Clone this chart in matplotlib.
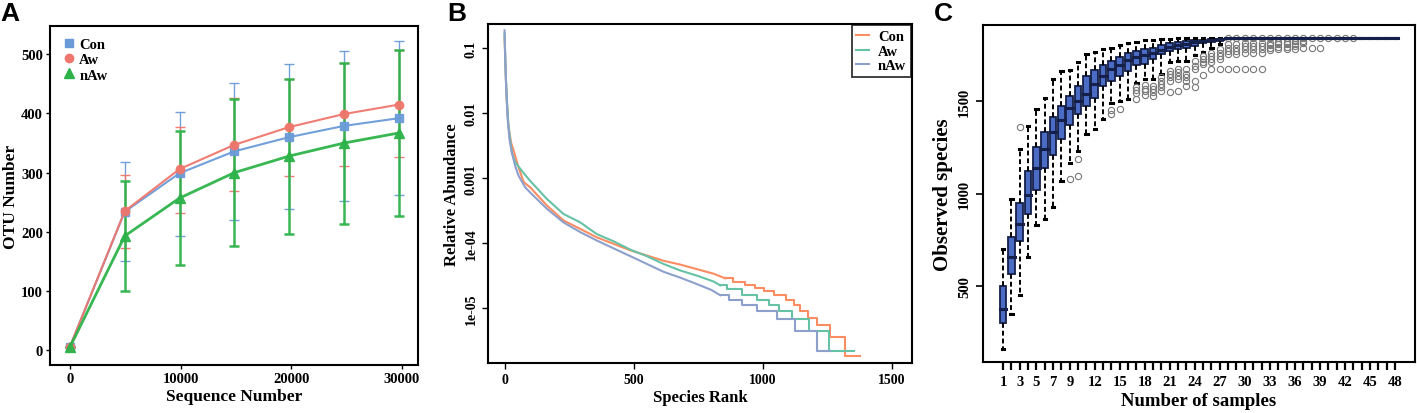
import matplotlib
matplotlib.use('Agg')
import matplotlib.pyplot as plt
from matplotlib.lines import Line2D

plt.rcParams['font.family'] = ['Liberation Serif', 'DejaVu Serif']
plt.rcParams['font.weight'] = 'bold'

# ---------------- A: OTU rarefaction ----------------
seq_num = [0, 4950, 9900, 14850, 19800, 24750, 29700]
con_mean = [6, 234, 299, 336, 360, 379, 392]
con_low = [6, 150, 193, 220, 238, 252, 263]
con_high = [6, 318, 403, 452, 483, 505, 522]
aw_mean = [6, 235, 306, 347, 377, 399, 415]
aw_low = [6, 173, 231, 269, 294, 312, 327]
aw_high = [6, 296, 378, 426, 459, 486, 507]
naw_mean = [5, 193, 257, 300, 328, 350, 367]
naw_low = [5, 100, 144, 176, 197, 213, 226]
naw_high = [5, 286, 370, 425, 459, 486, 507]

# ---------------- B: rank abundance ----------------
con_rank = [0, 5, 9, 15, 25, 37, 54, 74, 99, 164, 228, 293, 357, 422, 487, 551, 615, 680, 745, 809, 854]
con_abund = [0.151, 0.0339, 0.0148, 0.00646, 0.00355, 0.00251, 0.00148, 0.000871, 0.000724, 0.00038,
             0.000224, 0.000166, 0.000123, 9.77e-5, 7.76e-5, 6.46e-5, 5.37e-5, 4.68e-5, 3.98e-5, 3.39e-5, 2.88e-5]
con_tail_rank = [854, 886, 932, 970, 1003, 1041, 1090, 1119, 1145, 1173, 1209, 1258, 1319, 1377]
con_tail_abund = [2.88e-5, 2.57e-5, 2.29e-5, 2.04e-5, 1.82e-5, 1.58e-5, 1.32e-5, 1.10e-5, 9.1e-6,
                  7.1e-6, 5.5e-6, 3.6e-6, 1.86e-6, 1.86e-6]

aw_rank = [0, 5, 9, 15, 28, 41, 60, 80, 99, 164, 228, 293, 357, 422, 487, 551, 615, 680, 745, 809, 835]
aw_abund = [0.170, 0.038, 0.0166, 0.00646, 0.00251, 0.00178, 0.00141, 0.00112, 0.000912, 0.000479,
            0.000282, 0.000209, 0.000138, 0.000107, 7.94e-5, 6.31e-5, 4.79e-5, 3.80e-5, 3.16e-5, 2.57e-5, 2.24e-5]
aw_tail_rank = [835, 861, 919, 977, 1022, 1061, 1112, 1177, 1254, 1351]
aw_tail_abund = [2.24e-5, 1.95e-5, 1.58e-5, 1.35e-5, 1.10e-5, 8.9e-6, 6.8e-6, 4.5e-6, 2.19e-6, 2.19e-6]

naw_rank = [0, 3, 7, 12, 19, 28, 41, 54, 80, 99, 164, 228, 293, 357, 422, 487, 551, 615, 680, 745, 800, 835]
naw_abund = [0.19, 0.060, 0.0209, 0.00813, 0.00398, 0.00251, 0.00155, 0.0011, 0.000724, 0.000603,
             0.000339, 0.000209, 0.000148, 0.00011, 8.32e-5, 6.31e-5, 4.79e-5, 3.63e-5, 2.95e-5, 2.34e-5,
             1.91e-5, 1.58e-5]
naw_tail_rank = [835, 867, 919, 977, 1054, 1125, 1209, 1260]
naw_tail_abund = [1.58e-5, 1.35e-5, 1.10e-5, 8.9e-6, 6.8e-6, 4.5e-6, 2.19e-6, 2.19e-6]

# ---------------- C: species accumulation boxplot ----------------
n_samples = list(range(1, 49))
c_lo = [158, 350, 450, 658, 832, 864, 927, 1068, 1165, 1233, 1323, 1350, 1403, 1493, 1504, 1515,
        1600, 1621, 1621, 1648, 1711, 1720, 1720, 1750, 1768, 1790, 1810] + [1846] * 21
c_q1 = [300, 563, 743, 891, 1021, 1138, 1212, 1296, 1374, 1432, 1475, 1518, 1581, 1612, 1640, 1666,
        1698, 1705, 1729, 1756, 1774, 1786, 1792, 1801, 1815, 1822, 1830] + [1846] * 21
c_med = [377, 657, 837, 993, 1138, 1240, 1334, 1398, 1462, 1504, 1540, 1594, 1640, 1675, 1700, 1725,
         1738, 1750, 1765, 1779, 1795, 1805, 1812, 1820, 1826, 1832, 1836] + [1846] * 21
c_q3 = [498, 765, 949, 1121, 1251, 1334, 1414, 1475, 1532, 1586, 1640, 1670, 1700, 1718, 1740, 1765,
        1774, 1783, 1792, 1808, 1819, 1822, 1828, 1832, 1834, 1838, 1840] + [1846] * 21
c_hi = [702, 970, 1240, 1368, 1457, 1517, 1621, 1666, 1668, 1712, 1757, 1770, 1785, 1789, 1807, 1816,
        1822, 1832, 1834, 1837, 1840, 1842, 1844, 1846, 1846, 1846, 1846] + [1846] * 21
c_out = [[], [], [1363], [], [], [], [], [], [1080], [1188, 1095], [], [], [], [1455, 1432], [1459], [],
         [1576, 1563, 1545, 1513], [1590, 1570, 1555, 1535], [1585, 1567, 1549, 1531],
         [1630, 1612, 1594, 1576, 1558], [1666, 1648, 1630, 1612, 1549], [1675, 1657, 1639, 1621, 1558],
         [1675, 1648, 1630, 1612, 1585], [1720, 1690, 1675, 1612, 1580], [1747, 1729, 1711, 1702, 1643],
         [1765, 1747, 1729, 1711, 1675], [1783, 1765, 1747, 1729, 1675],
         [1843, 1810, 1792, 1774, 1756, 1675], [1843, 1810, 1792, 1774, 1756, 1675],
         [1843, 1819, 1801, 1783, 1765, 1675], [1843, 1819, 1801, 1783, 1765, 1675],
         [1843, 1819, 1801, 1783, 1765, 1675], [1843, 1819, 1804, 1792, 1780],
         [1843, 1822, 1810, 1797, 1783], [1843, 1822, 1810, 1797, 1783],
         [1843, 1828, 1813, 1801, 1786], [1843, 1828, 1815, 1792], [1843, 1792], [1843, 1792],
         [1843], [1843], [1843], [1843], [], [], [], [], []]
c_tick_labels = [1, 3, 5, 7, 9, 12, 15, 18, 21, 24, 27, 30, 33, 36, 39, 42, 45, 48]

fig = plt.figure(figsize=(14.17, 4.14), dpi=100)

# ---- panel A ----
axA = fig.add_axes([0.0353, 0.116, 0.2597, 0.819])
series_a = [
    ('Con', con_mean, con_low, con_high, '#6a9bd8', 's', 6, 1.5, 1.0),
    ('Aw', aw_mean, aw_low, aw_high, '#ef766c', 'o', 6, 1.5, 1.0),
    ('nAw', naw_mean, naw_low, naw_high, '#2db34a', '^', 7, 2.0, 1.8),
]
handles = []
for name, m, lo, hi, col, mk, ms, lw, elw in series_a:
    err = [[a - b for a, b in zip(m, lo)], [b - a for a, b in zip(m, hi)]]
    axA.errorbar(seq_num, m, yerr=err, color=col, marker=mk, ms=ms, lw=lw,
                 elinewidth=elw, capsize=3.5, capthick=elw, alpha=0.95)
    handles.append(Line2D([], [], color=col, marker=mk, ls='none', ms=ms))
axA.set_xlim(-1800, 31450)
axA.set_ylim(-25, 548)
axA.set_xticks([0, 10000, 20000, 30000])
axA.set_yticks([0, 100, 200, 300, 400, 500])
axA.set_xlabel('Sequence Number', fontsize=12.5, fontweight='bold', labelpad=2)
axA.set_ylabel('OTU Number', fontsize=12.5, fontweight='bold')
axA.yaxis.set_label_coords(-0.083, 0.5)
axA.tick_params(labelsize=10.5, length=3, width=1, pad=2)
for s in axA.spines.values():
    s.set_linewidth(1.5)
axA.legend(handles, ['Con', 'Aw', 'nAw'], loc='upper left', frameon=False, fontsize=10.5,
           handletextpad=0.2, labelspacing=0.15, borderaxespad=0.4, handlelength=1.0)

# ---- panel B ----
axB = fig.add_axes([0.3444, 0.1208, 0.2992, 0.8188])
series_b = [
    ('Con', con_rank, con_abund, con_tail_rank, con_tail_abund, '#fc8d62'),
    ('Aw', aw_rank, aw_abund, aw_tail_rank, aw_tail_abund, '#66c2a5'),
    ('nAw', naw_rank, naw_abund, naw_tail_rank, naw_tail_abund, '#8da0cb'),
]
for name, r, a, tr, ta, col in series_b:
    axB.plot(r, a, color=col, lw=1.5, label=name)
    axB.step(tr, ta, where='post', color=col, lw=1.5)
axB.set_yscale('log')
axB.set_ylim(1.43e-6, 0.237)
axB.set_xlim(-64, 1577)
axB.set_xticks([0, 500, 1000, 1500])
axB.set_yticks([0.1, 0.01, 0.001, 1e-4, 1e-5])
axB.set_yticklabels(['0.1', '0.01', '0.001', '1e-04', '1e-05'], rotation=90, va='center')
axB.minorticks_off()
axB.set_xlabel('Species Rank', fontsize=12, fontweight='bold', labelpad=2)
axB.set_ylabel('Relative Abundance', fontsize=12, fontweight='bold', labelpad=3)
axB.tick_params(labelsize=10, length=4, width=1)
for s in axB.spines.values():
    s.set_linewidth(1.5)
legB = axB.legend(loc='upper right', fontsize=10.5, handlelength=0.9, handletextpad=0.6,
                  labelspacing=0.1, borderaxespad=0.1, fancybox=False, borderpad=0.3)
legB.get_frame().set_edgecolor('black')
legB.get_frame().set_linewidth(1.3)

# ---- panel C ----
axC = fig.add_axes([0.6937, 0.1232, 0.3049, 0.814])
stats = []
for i in range(len(n_samples)):
    stats.append({'med': c_med[i], 'q1': c_q1[i], 'q3': c_q3[i],
                  'whislo': c_lo[i], 'whishi': c_hi[i], 'fliers': c_out[i]})
axC.bxp(stats, positions=n_samples, widths=0.8, patch_artist=True, showfliers=True,
        boxprops=dict(facecolor='#4a6cc4', edgecolor='#15204a', linewidth=1.3),
        medianprops=dict(color='#15204a', linewidth=2.2, solid_capstyle='projecting'),
        whiskerprops=dict(color='black', linestyle=(0, (2.5, 1.5)), linewidth=1.4),
        capprops=dict(color='black', linewidth=2.2),
        capwidths=0.3,
        flierprops=dict(marker='o', markerfacecolor='none', markeredgecolor='#777777',
                        markersize=4.5, markeredgewidth=0.8))
axC.set_xlim(-1.42, 50.42)
axC.set_ylim(89, 1914)
axC.set_xticks(n_samples)
axC.set_xticklabels([str(n) if n in c_tick_labels else '' for n in n_samples])
axC.set_yticks([500, 1000, 1500])
axC.set_yticklabels(['500', '1000', '1500'], rotation=90, va='center')
axC.tick_params(axis='x', labelsize=10.5, length=6, width=1.6)
axC.tick_params(axis='y', labelsize=10.5, length=5, width=1.2)
axC.set_xlabel('Number of samples', fontsize=13.5, fontweight='bold', labelpad=3)
axC.set_ylabel('Observed species', fontsize=15, fontweight='bold', labelpad=4)
for s in axC.spines.values():
    s.set_linewidth(1.5)

for lbl, x in [('A', 0.0), ('B', 0.3155), ('C', 0.659)]:
    fig.text(x, 0.995, lbl, ha='left', va='top', fontsize=19, fontweight='bold',
             family=['Liberation Sans', 'DejaVu Sans'])

fig.savefig('out.png', dpi=100)
